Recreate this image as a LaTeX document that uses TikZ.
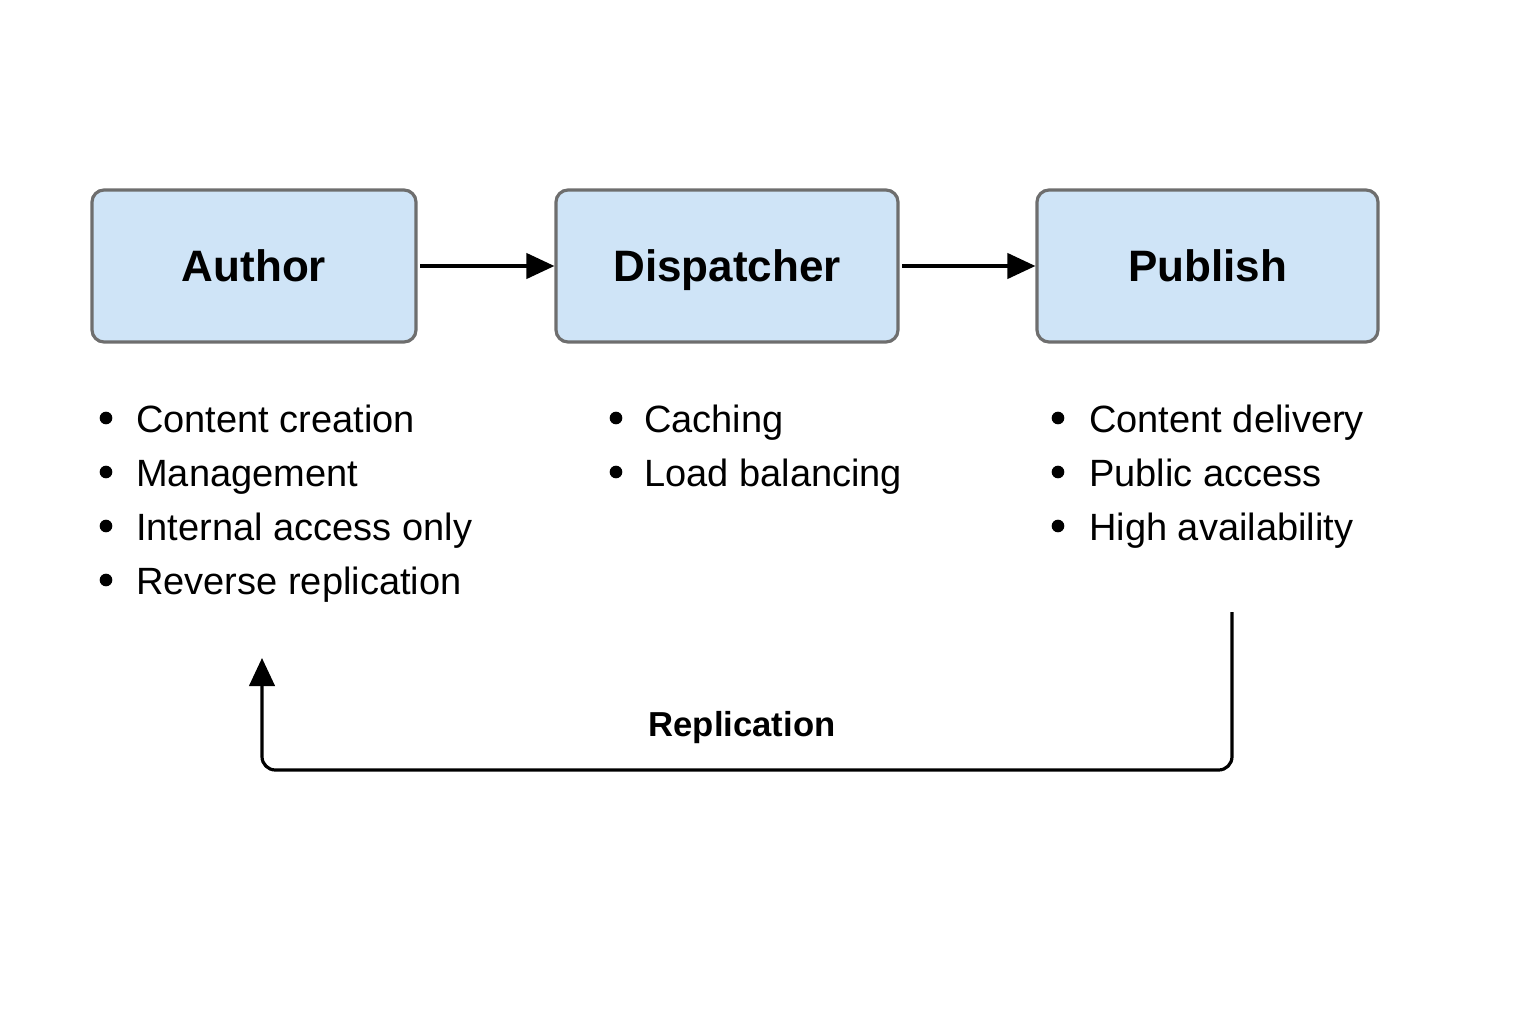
\documentclass[tikz,border=0pt]{standalone}
\usepackage{fontspec}
\setmainfont{Liberation Sans}
\usetikzlibrary{arrows.meta}
\definecolor{boxfill}{HTML}{CFE4F7}
\definecolor{boxline}{HTML}{6E6E6E}
\begin{document}
\begin{tikzpicture}[x=0.75pt,y=-0.75pt,
  box/.style={draw=boxline, line width=2.4pt, fill=boxfill, rounded corners=9pt,
    minimum width=#1*0.75pt, minimum height=152*0.75pt, inner sep=0pt,
    text height=23.8pt, text depth=0pt,
    font=\fontsize{33}{38}\selectfont\bfseries},
  conn/.style={line width=2.4pt, -{Triangle[length=21pt,width=19pt]}},
  item/.style={anchor=base west, inner sep=0pt, font=\fontsize{28.5}{34}\selectfont},
  dot/.style={circle, fill=black, inner sep=0pt, minimum size=9.5pt},
  lbl/.style={inner sep=0pt, text height=18.7pt, text depth=0pt, font=\fontsize{26}{30}\selectfont\bfseries}]
\useasboundingbox (0,0) rectangle (1536,1024);
\node[box=324] (author) at (254,266) {Author};
\node[box=342] (disp) at (727,266) {Dispatcher};
\node[box=341] (pub) at (1207.5,266) {Publish};
\draw[conn] (author.east) ++(2pt,0) -- (disp.west);
\draw[conn] (disp.east) ++(2pt,0) -- (pub.west);
% Author list
\node[dot] (a1d) at (106,418) {}; \node[item] (a1) at (136,432) {Content creation};
\node[dot] (a2d) at (106,472) {}; \node[item] (a2) at (136,486) {Management};
\node[dot] (a3d) at (106,526) {}; \node[item] (a3) at (136,540) {Internal access only};
\node[dot] (a4d) at (106,580) {}; \node[item] (a4) at (136,594) {Reverse replication};
% Dispatcher list
\node[dot] (d1d) at (616,418) {}; \node[item] (d1) at (644,432) {Caching};
\node[dot] (d2d) at (616,472) {}; \node[item] (d2) at (644,486) {Load balancing};
% Publish list
\node[dot] (p1d) at (1058,418) {}; \node[item] (p1) at (1089,432) {Content delivery};
\node[dot] (p2d) at (1058,472) {}; \node[item] (p2) at (1089,486) {Public access};
\node[dot] (p3d) at (1058,526) {}; \node[item] (p3) at (1089,540) {High availability};
% Replication
\coordinate (repStart) at (1232,612);
\coordinate (repEnd) at (262,658);
\draw[conn, rounded corners=10pt] (repStart) -- (1232,770) -| (repEnd);
\node[lbl] (rep) at (742,724) {Replication};
\end{tikzpicture}
\end{document}
